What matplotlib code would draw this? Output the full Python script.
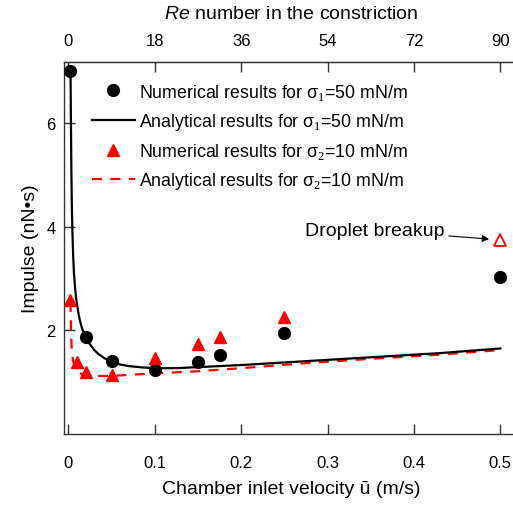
import matplotlib
matplotlib.use("Agg")
import matplotlib.pyplot as plt

plt.rcParams['font.family'] = ['Liberation Sans', 'DejaVu Sans']
plt.rcParams['mathtext.fontset'] = 'custom'
plt.rcParams['mathtext.rm'] = 'Liberation Serif'
plt.rcParams['mathtext.it'] = 'Liberation Sans:italic'
plt.rcParams['mathtext.bf'] = 'Liberation Sans:bold'

# Numerical results, sigma1 = 50 mN/m
num1_x = [0.002, 0.02, 0.05, 0.1, 0.15, 0.175, 0.25, 0.5]
num1_y = [7.01, 1.88, 1.41, 1.24, 1.38, 1.53, 1.94, 3.03]

# Numerical results, sigma2 = 10 mN/m
num2_x = [0.002, 0.01, 0.02, 0.05, 0.1, 0.15, 0.175, 0.25]
num2_y = [2.58, 1.38, 1.19, 1.13, 1.46, 1.73, 1.88, 2.26]
breakup_x = [0.5]
breakup_y = [3.74]

# Analytical curves
ana1_x = [0.0025, 0.003, 0.0035, 0.004, 0.0048, 0.0055, 0.0065, 0.0078, 0.009, 0.0105,
          0.012, 0.0135, 0.016, 0.018, 0.021, 0.025, 0.03, 0.035, 0.042, 0.05, 0.06,
          0.07, 0.085, 0.1, 0.125, 0.15, 0.2, 0.27, 0.35, 0.43, 0.5]
ana1_y = [7.05, 6.0, 5.1, 4.45, 3.85, 3.47, 3.1, 2.82, 2.62, 2.45,
          2.3, 2.18, 2.03, 1.95, 1.83, 1.73, 1.62, 1.54, 1.46, 1.40, 1.34,
          1.31, 1.285, 1.27, 1.27, 1.29, 1.33, 1.40, 1.48, 1.56, 1.65]

ana2_x = [0.0025, 0.003, 0.0035, 0.004, 0.005, 0.006, 0.008, 0.01, 0.0125, 0.015,
          0.021, 0.03, 0.05, 0.07, 0.1, 0.15, 0.2, 0.27, 0.35, 0.43, 0.5]
ana2_y = [2.55, 2.1, 1.8, 1.6, 1.46, 1.38, 1.28, 1.22, 1.18, 1.16,
          1.13, 1.12, 1.12, 1.14, 1.17, 1.21, 1.27, 1.36, 1.45, 1.53, 1.62]

x_ticks = [0, 0.1, 0.2, 0.3, 0.4, 0.5]
x_ticklabels = ['0', '0.1', '0.2', '0.3', '0.4', '0.5']
re_ticks = [0, 18, 36, 54, 72, 90]
y_ticks = [2, 4, 6]

fig = plt.figure(figsize=(5.13, 5.06), dpi=100)
ax = fig.add_axes([0.1248, 0.1403, 1.009 - 0.1248, 0.876 - 0.1403])

ax.plot(num1_x, num1_y, 'o', color='black', markersize=8.5, zorder=4,
        label=r'Numerical results for σ$_{1}$=50 mN/m')
ax.plot(ana1_x, ana1_y, '-', color='black', linewidth=1.6, zorder=3,
        label=r'Analytical results for σ$_{1}$=50 mN/m')
ax.plot(num2_x, num2_y, '^', color='red', markersize=8.5, zorder=4,
        label=r'Numerical results for σ$_{2}$=10 mN/m')
ax.plot(ana2_x, ana2_y, color='red', linewidth=1.6, linestyle=(0, (4.5, 3.8)), zorder=2,
        label=r'Analytical results for σ$_{2}$=10 mN/m')
ax.plot(breakup_x, breakup_y, '^', markerfacecolor='white', markeredgecolor='red',
        markeredgewidth=1.3, markersize=8, zorder=4)

ax.set_xlim(-0.005, 0.52)
ax.set_ylim(0, 7.18)
ax.set_xticks(x_ticks)
ax.set_xticklabels(x_ticklabels)
ax.set_yticks(y_ticks)

for s in ax.spines.values():
    s.set_color('#333333')
    s.set_linewidth(1.0)

ax.tick_params(axis='x', direction='in', length=7, width=1, pad=15, labelsize=12,
               colors='#333333', labelcolor='black', top=False)
ax.tick_params(axis='y', direction='in', length=8, width=1, pad=6, labelsize=12,
               colors='#333333', labelcolor='black')

ax.set_xlabel('Chamber inlet velocity ū (m/s)', fontsize=14, labelpad=7)
ax.set_ylabel('Impulse (nN•s)', fontsize=14, labelpad=5)

sec = ax.secondary_xaxis('top', functions=(lambda u: u * 180.0, lambda r: r / 180.0))
sec.set_xticks(re_ticks)
sec.tick_params(direction='in', length=7, width=1, pad=10, labelsize=12,
                colors='#333333', labelcolor='black')
sec.spines['top'].set_color('#333333')
sec.set_xlabel(r'$Re$ number in the constriction', fontsize=14, labelpad=11)

leg = ax.legend(loc='upper left', bbox_to_anchor=(0.03, 0.985), frameon=False,
                fontsize=12.8, handlelength=2.4, handletextpad=0.25, labelspacing=0.52,
                borderpad=0.3)

ax.annotate('Droplet breakup', xy=(0.487, 3.76), xytext=(0.274, 3.93),
            fontsize=14, va='center', ha='left',
            arrowprops=dict(arrowstyle='-|>', color='black', lw=0.8,
                            mutation_scale=10, shrinkA=1, shrinkB=0))

fig.savefig('out.png', dpi=100)
